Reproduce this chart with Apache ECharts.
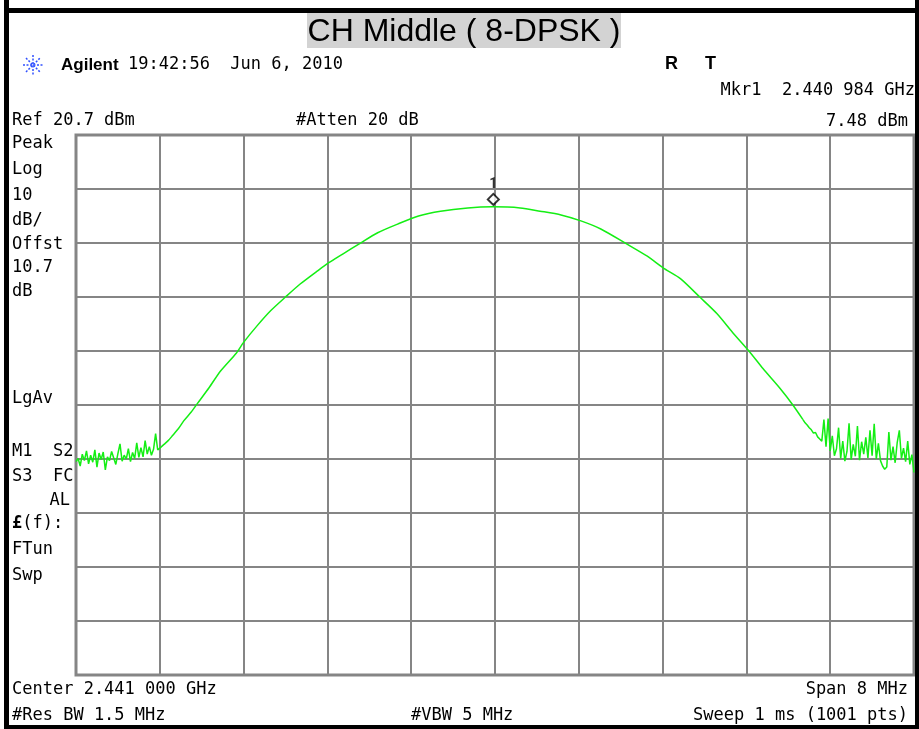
<!DOCTYPE html>
<html>
<head>
<meta charset="utf-8">
<title>CH Middle ( 8-DPSK )</title>
<script src="https://cdn.jsdelivr.net/npm/echarts@6/dist/echarts.min.js"></script>
<style>
  html, body { margin: 0; padding: 0; background: #fff; }
  #chart { width: 919px; height: 729px; }
</style>
</head>
<body>
<div id="chart"></div>
<script>
// frequency offsets from center (MHz), levels in dBm
const leftFreq = [-4.00, -3.98, -3.96, -3.94, -3.92, -3.90, -3.88, -3.86, -3.84, -3.82, -3.80,
  -3.78, -3.76, -3.74, -3.72, -3.70, -3.68, -3.66, -3.64, -3.62, -3.60, -3.58, -3.56, -3.54,
  -3.52, -3.50, -3.48, -3.46, -3.44, -3.42, -3.40, -3.38, -3.36, -3.34, -3.32, -3.30, -3.28,
  -3.26, -3.24, -3.22, -3.20];
const leftLevel = [-39.8, -39.2, -40.6, -38.4, -39.6, -37.8, -40.2, -38.6, -39.9, -37.6, -40.8,
  -38.2, -39.4, -38.0, -41.3, -38.9, -39.6, -37.9, -39.1, -40.3, -38.3, -36.5, -39.7, -38.6,
  -39.3, -37.4, -39.8, -38.1, -39.2, -36.3, -39.0, -37.2, -38.9, -35.9, -38.4, -37.0, -38.6,
  -37.5, -34.6, -37.6, -37.3];

const lobeFreq = [-3.20, -3.16, -3.12, -3.08, -3.02, -2.97, -2.90, -2.84, -2.73, -2.62, -2.47,
  -2.40, -2.27, -2.14, -2.00, -1.86, -1.69, -1.59, -1.45, -1.30, -1.12, -0.93, -0.73, -0.52,
  -0.26, -0.02, 0.24, 0.43, 0.63, 0.82, 1.01, 1.26, 1.45, 1.62, 1.77, 1.96, 2.12, 2.27, 2.42,
  2.56, 2.72, 2.84, 2.94];
const lobeLevel = [-37.3, -36.6, -35.9, -35.0, -33.6, -32.2, -30.6, -29.0, -26.1, -23.0, -19.7,
  -17.7, -14.6, -11.8, -9.3, -6.9, -4.4, -3.0, -1.3, 0.5, 2.6, 4.2, 5.7, 6.6,
  7.2, 7.4, 7.2, 6.6, 5.9, 4.8, 3.3, 0.5, -1.7, -4.1, -5.9, -9.4, -12.4, -15.9, -19.2,
  -22.6, -26.2, -29.2, -32.0];

const rightFreq = [2.94, 2.96, 2.98, 3.00, 3.02, 3.04, 3.06, 3.08, 3.10, 3.12, 3.14, 3.16, 3.18,
  3.20, 3.22, 3.24, 3.26, 3.28, 3.30, 3.32, 3.34, 3.36, 3.38, 3.40, 3.42, 3.44, 3.46, 3.48,
  3.50, 3.52, 3.54, 3.56, 3.58, 3.60, 3.62, 3.64, 3.66, 3.68, 3.70, 3.72, 3.74, 3.76, 3.78,
  3.80, 3.82, 3.84, 3.86, 3.88, 3.90, 3.92, 3.94, 3.96, 3.98, 4.00];
const rightLevel = [-32.0, -32.6, -33.0, -33.5, -33.9, -34.5, -34.4, -35.2, -35.6, -36.0, -32.0, -37.0, -31.8,
  -37.8, -35.0, -38.7, -37.4, -33.5, -39.2, -36.0, -39.7, -37.9, -32.7, -39.4, -36.6, -38.8, -33.2, -39.5,
  -36.1, -38.4, -35.3, -39.1, -34.0, -38.7, -32.8, -39.3, -36.4, -39.6, -40.6, -41.2, -40.8, -34.3, -39.5,
  -37.0, -40.0, -36.2, -34.0, -39.2, -37.3, -39.8, -36.0, -40.3, -38.5, -41.8];

const markerFreq = [-0.016];
const markerLevel = [7.48];

const refLevel = 20.7;   // dBm, top of screen
const dbPerDiv = 10;
const halfSpan = 4;      // MHz
const freqPerDiv = 0.8;

const leftLabels = ["Peak", "Log", "10", "dB/", "Offst", "10.7", "dB"];
const leftLabelY = [144, 170, 196, 221, 245, 268, 292];

const traceColor = "#14ee14";
const gridGrey = "#858585";
const mono = '17px "DejaVu Sans Mono"';

const zip = (xs, ys) => xs.map((x, i) => [x, ys[i]]);

const txt = (text, x, y, extra) => ({
  type: "text",
  x: x,
  y: y,
  silent: true,
  z: 10,
  style: Object.assign({ text: text, fill: "#000", font: mono, align: "left", verticalAlign: "middle" }, extra || {}),
});

const graphics = [
  // title box
  { type: "rect", silent: true, shape: { x: 307, y: 13, width: 314, height: 35 }, style: { fill: "#d3d3d3" } },
  txt("CH Middle ( 8-DPSK )", 464, 32, { font: '32px "Liberation Sans"', align: "center" }),
  // header
  txt("Agilent", 61, 65, { font: 'bold 17px "Liberation Sans"' }),
  txt("19:42:56  Jun 6, 2010", 128, 65),
  txt("R", 665, 64, { font: 'bold 18px "Liberation Sans"' }),
  txt("T", 705, 64, { font: 'bold 18px "Liberation Sans"' }),
  txt("Mkr1  2.440 984 GHz", 915, 91, { align: "right" }),
  txt("Ref 20.7 dBm", 12, 121),
  txt("#Atten 20 dB", 296, 121),
  txt("7.48 dBm", 908, 122, { align: "right" }),
  // left side annotations
  txt("LgAv", 12, 399),
  txt("M1  S2", 12, 452),
  txt("S3  FC", 12, 477),
  txt("AL", 70, 501, { align: "right" }),
  txt("{b|£}(f):", 12, 524, { rich: { b: { font: 'bold 17px "DejaVu Sans Mono"' } } }),
  txt("FTun", 12, 550),
  txt("Swp", 12, 576),
  // footer
  txt("Center 2.441 000 GHz", 12, 690),
  txt("Span 8 MHz", 908, 690, { align: "right" }),
  txt("#Res BW 1.5 MHz", 12, 716),
  txt("#VBW 5 MHz", 411, 716),
  txt("Sweep 1 ms (1001 pts)", 908, 716, { align: "right" }),
  // black frame
  { type: "rect", silent: true, z: 20, shape: { x: 4, y: 0, width: 5, height: 729 }, style: { fill: "#000" } },
  { type: "rect", silent: true, z: 20, shape: { x: 915, y: 0, width: 4, height: 729 }, style: { fill: "#000" } },
  { type: "rect", silent: true, z: 20, shape: { x: 4, y: 8, width: 915, height: 5 }, style: { fill: "#000" } },
  { type: "rect", silent: true, z: 20, shape: { x: 4, y: 725, width: 915, height: 4 }, style: { fill: "#000" } },
];

leftLabels.forEach((t, i) => graphics.push(txt(t, 12, leftLabelY[i])));

// Agilent spark logo
[[23, 65, 43, 65], [33, 55, 33, 75], [26, 58, 40, 72], [26, 72, 40, 58]].forEach((l) => {
  graphics.push({
    type: "line",
    silent: true,
    shape: { x1: l[0], y1: l[1], x2: l[2], y2: l[3] },
    style: { stroke: "#3050ff", lineWidth: 1.5, lineDash: [2, 1.5] },
  });
});

const chart = echarts.init(document.getElementById("chart"), null, { renderer: "canvas" });

const traceLine = (data, smooth) => ({
  type: "line",
  data: data,
  symbol: "none",
  smooth: smooth,
  silent: true,
  lineStyle: { color: traceColor, width: 1.5 },
  z: 3,
});

chart.setOption({
  animation: false,
  backgroundColor: "#fff",
  grid: {
    left: 76,
    top: 135,
    right: 5,
    bottom: 54,
    show: true,
    backgroundColor: "#fff",
    borderColor: gridGrey,
    borderWidth: 3,
  },
  xAxis: {
    type: "value",
    min: -halfSpan,
    max: halfSpan,
    interval: freqPerDiv,
    axisLine: { show: false },
    axisTick: { show: false },
    axisLabel: { show: false },
    splitLine: { lineStyle: { color: gridGrey, width: 2 } },
  },
  yAxis: {
    type: "value",
    min: refLevel - 10 * dbPerDiv,
    max: refLevel,
    interval: dbPerDiv,
    axisLine: { show: false },
    axisTick: { show: false },
    axisLabel: { show: false },
    splitLine: { lineStyle: { color: gridGrey, width: 2 } },
  },
  series: [
    traceLine(zip(leftFreq, leftLevel), false),
    traceLine(zip(lobeFreq, lobeLevel), 0.25),
    traceLine(zip(rightFreq, rightLevel), false),
    {
      type: "scatter",
      data: zip(markerFreq, markerLevel),
      symbol: "diamond",
      symbolSize: [11, 11],
      symbolOffset: [0, -7],
      silent: true,
      z: 5,
      itemStyle: { color: "#fff", borderColor: "#000", borderWidth: 2 },
      label: {
        show: true,
        formatter: "1",
        position: "top",
        distance: 1,
        color: "#000",
        fontSize: 14,
        fontWeight: "bold",
        fontFamily: "Roboto",
        textBorderWidth: 0,
      },
    },
  ],
  graphic: { elements: graphics },
});

window.addEventListener("resize", () => chart.resize());
</script>
</body>
</html>
